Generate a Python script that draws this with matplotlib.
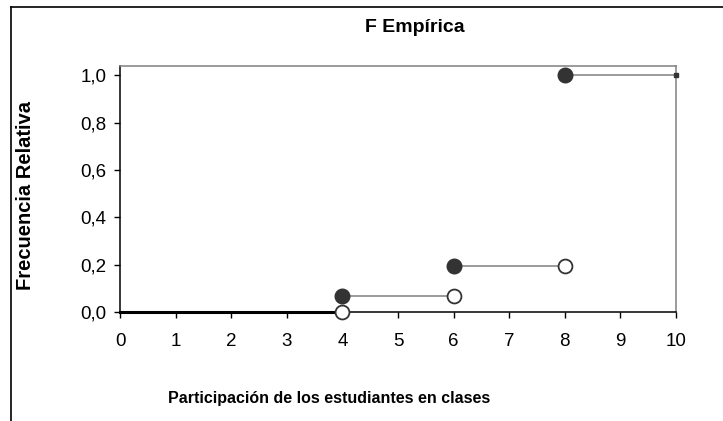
import matplotlib
matplotlib.use("Agg")
import matplotlib.pyplot as plt
from matplotlib.lines import Line2D
from matplotlib.ticker import FuncFormatter

# ECDF: saltos en x, frecuencia relativa acumulada en cada tramo
x_saltos = [0, 4, 6, 8, 10]
f_tramos = [0.0, 0.067, 0.193, 1.0]
x_ticks = list(range(0, 11))
y_ticks = [0.0, 0.2, 0.4, 0.6, 0.8, 1.0]

GRIS, OSCURO = "#808080", "#333333"
plt.rcParams.update({"font.family": ["Liberation Sans", "DejaVu Sans"]})

fig = plt.figure(figsize=(7.23, 4.21), dpi=100)
ax = fig.add_axes([0.166, 0.2589, 0.769, 0.5843])

# tramo inicial (sobre el eje) y tramos horizontales
ax.plot(x_saltos[:2], [f_tramos[0]] * 2, color="black", lw=2.2, zorder=3, clip_on=False)
for i in range(1, len(f_tramos)):
    ax.plot(x_saltos[i:i + 2], [f_tramos[i]] * 2, color=GRIS, lw=1.1, zorder=2)

# extremo cerrado (izquierda) y abierto (derecha)
ax.plot(x_saltos[1:-1], f_tramos[1:], "o", ms=10.5, color=OSCURO, zorder=4)
ax.plot(x_saltos[1:-1], f_tramos[:-1], "o", ms=10, mfc="white", mec=OSCURO, mew=1.3,
        zorder=4, clip_on=False)
ax.plot([x_saltos[-1]], [f_tramos[-1]], "s", ms=2.5, color=OSCURO, zorder=4, clip_on=False)

ax.set_xlim(0, 10); ax.set_ylim(0, 1.04)
ax.set_xticks(x_ticks); ax.set_yticks(y_ticks)
ax.yaxis.set_major_formatter(FuncFormatter(lambda v, p: f"{v:.1f}".replace(".", ",")))
ax.tick_params(axis="both", direction="out", length=4, width=1, color="black",
               labelsize=13.5)
ax.tick_params(axis="x", pad=11)
ax.tick_params(axis="y", pad=6)
for lado in ("left", "bottom"):
    ax.spines[lado].set_color("black"); ax.spines[lado].set_linewidth(1.1)
for lado in ("top", "right"):
    ax.spines[lado].set_color(GRIS); ax.spines[lado].set_linewidth(1.1)

fig.text(415 / 723, 1 - 27 / 421, "F Empírica", ha="center", va="center",
         fontsize=14, fontweight="bold")
fig.text(329 / 723, 1 - 398 / 421, "Participación de los estudiantes en clases",
         ha="center", va="center", fontsize=11.5, fontweight="bold")
fig.text(26 / 723, 1 - 195 / 421, "Frecuencia Relativa", ha="center", va="center",
         rotation=90, fontsize=14.5, fontweight="bold")

# borde del área del gráfico (solo izquierda y arriba visibles)
fig.add_artist(Line2D([11 / 723, 11 / 723], [0, 1 - 7 / 421], transform=fig.transFigure,
                      color="black", lw=1.2))
fig.add_artist(Line2D([11 / 723, 1], [1 - 7 / 421, 1 - 7 / 421], transform=fig.transFigure,
                      color="black", lw=1.2))

fig.savefig("out.png", dpi=100)
